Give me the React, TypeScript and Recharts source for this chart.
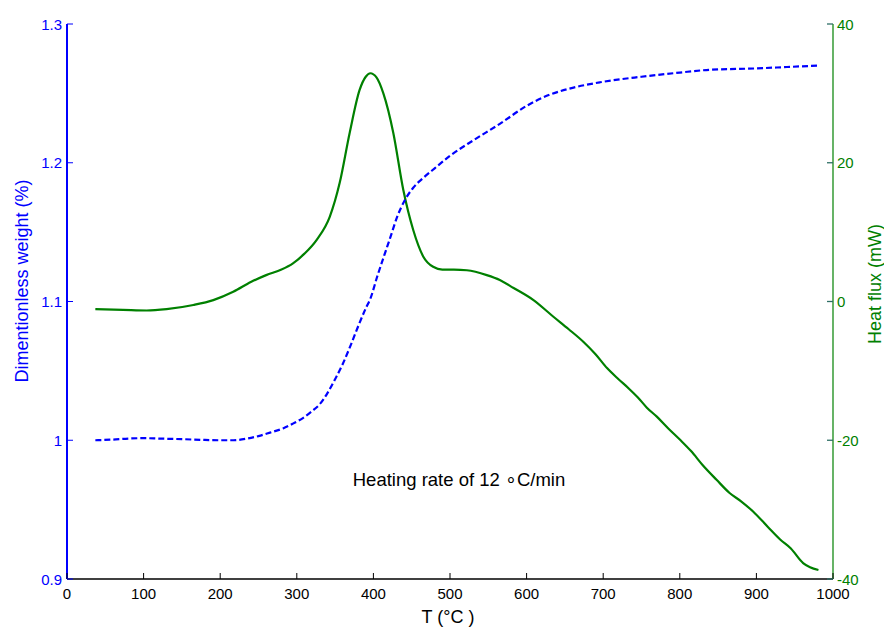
import { LineChart, Line, XAxis, YAxis, Customized } from 'recharts';

// temperature (°C) and dimensionless weight, blue dashed curve
const weightTemps = [
  37, 60, 80, 100, 120, 150, 180, 200, 217, 235, 250, 265, 282, 295, 308, 320, 330, 340, 350, 360,
  370, 380, 390, 396, 405, 414, 422, 431, 441, 452, 465, 480, 500, 530, 565, 600, 630, 660, 696,
  750, 800, 839, 900, 940, 980,
];
const weightValues = [
  1.0, 1.0005, 1.0012, 1.0015, 1.0012, 1.0008, 1.0002, 1.0, 1.0, 1.0012, 1.003, 1.0055, 1.0085, 1.012,
  1.016, 1.021, 1.026, 1.034, 1.044, 1.055, 1.068, 1.082, 1.095, 1.102, 1.118, 1.133, 1.146, 1.161,
  1.173, 1.182, 1.189, 1.196, 1.205, 1.216, 1.228, 1.241, 1.249, 1.254, 1.258, 1.262, 1.265, 1.267,
  1.268, 1.269, 1.27,
];

// temperature (°C) and heat flux (mW), green curve
const fluxTemps = [
  37, 73, 104, 130, 165, 191, 217, 240, 260, 280, 295, 310, 326, 343, 356, 369, 382, 390, 396, 404,
  413, 426, 439, 452, 465, 478, 490, 505, 522, 548, 565, 583, 609, 635, 655, 674, 690, 705, 720, 733,
  745, 757, 770, 785, 800, 815, 830, 848, 865, 880, 896, 915, 931, 945, 961, 970, 981,
];
const fluxValues = [
  -1.1, -1.2, -1.3, -1.1, -0.5, 0.2, 1.4, 2.8, 3.8, 4.6, 5.5, 6.9, 8.9, 12.2, 17.1, 24.3, 30.5, 32.4,
  32.9, 32.3, 30, 24.3, 16.1, 10.3, 6.5, 5.0, 4.6, 4.6, 4.5, 3.8, 3.1, 1.95, 0.2, -2.2, -4.0, -5.8,
  -7.6, -9.6, -11.2, -12.5, -13.8, -15.3, -16.6, -18.3, -19.9, -21.6, -23.6, -25.7, -27.6, -28.8,
  -30.3, -32.5, -34.3, -35.6, -37.7, -38.3, -38.7,
];

const tempTicks = [0, 100, 200, 300, 400, 500, 600, 700, 800, 900, 1000];
const weightTicks = [0.9, 1, 1.1, 1.2, 1.3];
const fluxTicks = [-40, -20, 0, 20, 40];

const weightSeries = weightTemps.map((T, i) => ({ T, weight: weightValues[i] }));
const fluxSeries = fluxTemps.map((T, i) => ({ T, flux: fluxValues[i] }));

const FONT = '"Liberation Sans", Arial, Helvetica, sans-serif';
const BLUE = '#0000ff';
const GREEN = '#008000';
const TEAL = '#2f6f66';

// plot frame, used only to point the ticks inward
const LEFT = 67;
const RIGHT = 833;
const TOP = 24;
const BOTTOM = 579;
const TICK = 6;
const TICK_FONT = 15;

function BottomTick(props: any) {
  const x = props.x;
  return (
    <g>
      <line x1={x} x2={x} y1={BOTTOM} y2={BOTTOM - TICK} stroke="#000" />
      <text x={x} y={588} dy="0.71em" textAnchor="middle" fontSize={TICK_FONT} fill="#000">
        {props.payload.value}
      </text>
    </g>
  );
}

function TopTick(props: any) {
  const x = props.x;
  return <line x1={x} x2={x} y1={TOP} y2={TOP + TICK} stroke="#000" />;
}

function LeftTick(props: any) {
  const y = props.y;
  return (
    <g>
      <line x1={LEFT} x2={LEFT + TICK} y1={y} y2={y} stroke={BLUE} />
      <text x={62} y={y} textAnchor="end" dominantBaseline="central" fontSize={TICK_FONT} fill={BLUE}>
        {props.payload.value}
      </text>
    </g>
  );
}

function RightTick(props: any) {
  const y = props.y;
  return (
    <g>
      <line x1={RIGHT} x2={RIGHT - TICK} y1={y} y2={y} stroke={TEAL} strokeWidth={1.3} />
      <text x={837} y={y} textAnchor="start" dominantBaseline="central" fontSize={TICK_FONT} fill={GREEN}>
        {props.payload.value}
      </text>
    </g>
  );
}

function Texts() {
  return (
    <g style={{ fontFamily: FONT }}>
      <text x={448} y={617} fontSize={18} textAnchor="middle" dominantBaseline="central" fill="#000">
        T (°C )
      </text>
      <text
        x={22}
        y={281}
        fontSize={18}
        textAnchor="middle"
        dominantBaseline="central"
        fill={BLUE}
        transform="rotate(-90 22 281)"
      >
        Dimentionless weight (%)
      </text>
      <text
        x={875}
        y={284}
        fontSize={18}
        textAnchor="middle"
        dominantBaseline="central"
        fill={GREEN}
        transform="rotate(-90 875 284)"
      >
        Heat flux (mW)
      </text>
      <text x={459} y={479} fontSize={18.5} textAnchor="middle" dominantBaseline="central" fill="#000">
        Heating rate of 12 ∘C/min
      </text>
    </g>
  );
}

export default function App() {
  return (
    <div style={{ position: 'absolute', left: 0, top: 0, background: '#fff', fontFamily: FONT }}>
      <LineChart width={884} height={627} margin={{ top: 24, right: 0, bottom: 0, left: 0 }}>
        <XAxis
          xAxisId="bottom"
          dataKey="T"
          type="number"
          domain={[0, 1000]}
          ticks={tempTicks}
          interval={0}
          height={48}
          axisLine={{ stroke: '#000', strokeWidth: 1.5 }}
          tickLine={false}
          tick={BottomTick}
          allowDataOverflow
        />
        <XAxis
          xAxisId="top"
          orientation="top"
          dataKey="T"
          type="number"
          domain={[0, 1000]}
          ticks={tempTicks}
          interval={0}
          height={0}
          axisLine={{ stroke: '#000', strokeWidth: 1.5 }}
          tickLine={false}
          tick={TopTick}
        />
        <YAxis
          yAxisId="left"
          type="number"
          domain={[0.9, 1.3]}
          ticks={weightTicks}
          interval={0}
          width={67}
          axisLine={{ stroke: BLUE, strokeWidth: 2 }}
          tickLine={false}
          tick={LeftTick}
          allowDataOverflow
        />
        <YAxis
          yAxisId="right"
          orientation="right"
          type="number"
          domain={[-40, 40]}
          ticks={fluxTicks}
          interval={0}
          width={51}
          axisLine={{ stroke: GREEN, strokeWidth: 1.2 }}
          tickLine={false}
          tick={RightTick}
          allowDataOverflow
        />
        <Line
          data={fluxSeries}
          xAxisId="bottom"
          yAxisId="right"
          dataKey="flux"
          type="monotone"
          stroke={GREEN}
          strokeWidth={2.2}
          dot={false}
          isAnimationActive={false}
        />
        <Line
          data={weightSeries}
          xAxisId="bottom"
          yAxisId="left"
          dataKey="weight"
          type="monotone"
          stroke={BLUE}
          strokeWidth={2.2}
          strokeDasharray="6 3"
          dot={false}
          isAnimationActive={false}
        />
        <Customized component={<Texts />} />
      </LineChart>
    </div>
  );
}
